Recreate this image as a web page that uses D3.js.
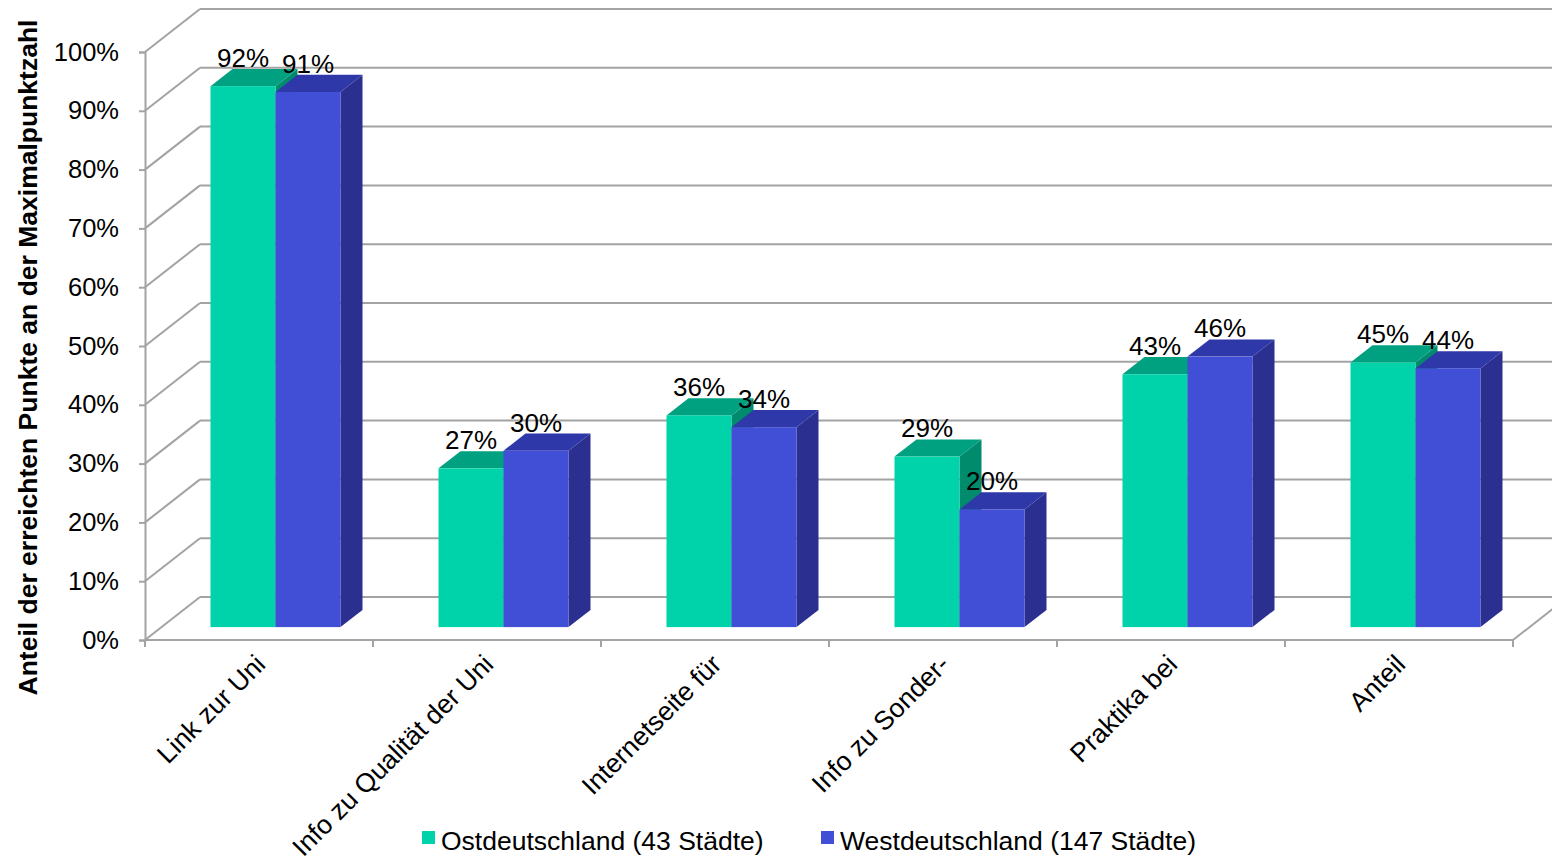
<!DOCTYPE html>
<html>
<head>
<meta charset="utf-8">
<script src="https://cdn.jsdelivr.net/npm/d3@7"></script>
<style>
  html, body { margin: 0; padding: 0; background: #fff; }
  svg { display: block; font-family: "Liberation Sans", Arial, sans-serif; }
</style>
</head>
<body>
<svg id="chart" width="1552" height="859"></svg>
<script>
// Categories and series values (share of maximum score)
const categories = ["Link zur Uni", "Info zu Qualität der Uni", "Internetseite für", "Info zu Sonder-", "Praktika bei", "Anteil"];
const seriesNames = ["Ostdeutschland (43 Städte)", "Westdeutschland (147 Städte)"];
const ost = [0.92, 0.27, 0.36, 0.29, 0.43, 0.45];
const west = [0.91, 0.30, 0.34, 0.20, 0.46, 0.44];
const yTicks = [0, 0.1, 0.2, 0.3, 0.4, 0.5, 0.6, 0.7, 0.8, 0.9, 1.0];
const yTitle = "Anteil der erreichten Punkte an der Maximalpunktzahl";

const svg = d3.select("#chart");

// Plot frame (front plane) and oblique depth of the 3D box
const plotLeft = 145, plotRight = 1513, plotBottom = 640, plotTop = 52;
const depth = { dx: 55, dy: -43 };
const barDepthStart = 0.3, barDepthEnd = 0.7;

const y = d3.scaleLinear().domain([0, 1]).range([plotBottom, plotTop]);
const x = d3.scaleBand().domain(categories).range([plotLeft, plotRight]);
const groupWidth = 130;
const xs = d3.scaleBand().domain(seriesNames).range([0, groupWidth]);

const gridColor = "#a3a3a3";
const faces = {
  [seriesNames[0]]: { front: "#00d3a9", top: "#00a181", side: "#008b6d" },
  [seriesNames[1]]: { front: "#414fd6", top: "#2f38a9", side: "#2a2f90" }
};

// Back wall gridlines and side wall diagonals
const grid = svg.append("g");
yTicks.forEach(v => {
  grid.append("line")
    .attr("x1", plotLeft + depth.dx).attr("x2", 1560)
    .attr("y1", y(v) + depth.dy).attr("y2", y(v) + depth.dy)
    .attr("stroke", gridColor).attr("stroke-width", 2);
  grid.append("line")
    .attr("x1", plotLeft).attr("x2", plotLeft + depth.dx)
    .attr("y1", y(v)).attr("y2", y(v) + depth.dy)
    .attr("stroke", gridColor).attr("stroke-width", 2);
});
// Floor right edge
grid.append("line")
  .attr("x1", plotRight).attr("y1", plotBottom)
  .attr("x2", plotRight + depth.dx).attr("y2", plotBottom + depth.dy)
  .attr("stroke", gridColor).attr("stroke-width", 2);

// Value axis (front left edge)
const yAxis = d3.axisLeft(y).tickValues(yTicks).tickFormat(d3.format(".0%")).tickSize(6).tickPadding(20);
const yg = svg.append("g").attr("transform", `translate(${plotLeft},0)`).call(yAxis);
yg.select(".domain").attr("stroke", gridColor).attr("stroke-width", 2);
yg.selectAll(".tick line").attr("stroke", gridColor).attr("stroke-width", 2);
yg.selectAll(".tick text").attr("font-size", 25.5).attr("fill", "#000")
  .attr("font-family", "Liberation Sans, Arial, sans-serif");

// Category axis (front bottom edge)
const boundaries = categories.map((c, i) => plotLeft + i * x.step()).concat([plotRight]);
const xg = svg.append("g");
xg.append("line").attr("x1", plotLeft).attr("x2", plotRight).attr("y1", plotBottom).attr("y2", plotBottom)
  .attr("stroke", gridColor).attr("stroke-width", 2);
xg.selectAll("line.tick").data(boundaries).join("line").attr("class", "tick")
  .attr("x1", d => d).attr("x2", d => d).attr("y1", plotBottom).attr("y2", plotBottom + 7)
  .attr("stroke", gridColor).attr("stroke-width", 2);
xg.selectAll("text").data(categories).join("text")
  .attr("transform", d => `translate(${x(d) + x.bandwidth() / 2 + 8},${plotBottom + 26}) rotate(-45)`)
  .attr("text-anchor", "end")
  .attr("font-size", 26.5)
  .attr("fill", "#000")
  .text(d => d);

// 3D columns
const fOff = { dx: depth.dx * barDepthStart, dy: depth.dy * barDepthStart };
const bd = { dx: depth.dx * (barDepthEnd - barDepthStart), dy: depth.dy * (barDepthEnd - barDepthStart) };
const groupPad = (x.bandwidth() - groupWidth) / 2;

const rows = [];
categories.forEach((c, i) => {
  rows.push({ cat: c, s: seriesNames[0], v: ost[i] });
  rows.push({ cat: c, s: seriesNames[1], v: west[i] });
});

const bars = svg.append("g");
rows.forEach(r => {
  const x0 = x(r.cat) + groupPad + xs(r.s) + fOff.dx;
  const x1 = x0 + xs.bandwidth();
  const yb = y(0) + fOff.dy;
  const yt = y(r.v) + fOff.dy;
  const g = bars.append("g");
  const col = faces[r.s];
  // side face
  g.append("path")
    .attr("d", `M${x1},${yt}L${x1 + bd.dx},${yt + bd.dy}L${x1 + bd.dx},${yb + bd.dy}L${x1},${yb}Z`)
    .attr("fill", col.side);
  // top face
  g.append("path")
    .attr("d", `M${x0},${yt}L${x1},${yt}L${x1 + bd.dx},${yt + bd.dy}L${x0 + bd.dx},${yt + bd.dy}Z`)
    .attr("fill", col.top);
  // front face
  g.append("rect")
    .attr("x", x0).attr("y", yt).attr("width", x1 - x0).attr("height", yb - yt)
    .attr("fill", col.front);
  r.labelX = (x0 + x1) / 2;
  r.labelY = yt + bd.dy - 2;
});

// Data labels
svg.append("g").selectAll("text").data(rows).join("text")
  .attr("x", d => d.labelX).attr("y", d => d.labelY)
  .attr("text-anchor", "middle")
  .attr("font-size", 26)
  .attr("fill", "#000")
  .text(d => d3.format(".0%")(d.v));

// Value axis title
svg.append("text")
  .attr("transform", `translate(37,${(18 + 697) / 2}) rotate(-90)`)
  .attr("text-anchor", "middle")
  .attr("font-size", 26.5)
  .attr("font-weight", "bold")
  .attr("fill", "#000")
  .text(yTitle);

// Legend
const legendItems = [
  { name: seriesNames[0], sx: 422, color: faces[seriesNames[0]].front },
  { name: seriesNames[1], sx: 821, color: faces[seriesNames[1]].front }
];
const lg = svg.append("g");
legendItems.forEach(it => {
  lg.append("rect").attr("x", it.sx).attr("y", 831).attr("width", 13).attr("height", 13).attr("fill", it.color);
  lg.append("text").attr("x", it.sx + 19).attr("y", 850).attr("font-size", 26.5).attr("fill", "#000").text(it.name);
});
</script>
</body>
</html>
